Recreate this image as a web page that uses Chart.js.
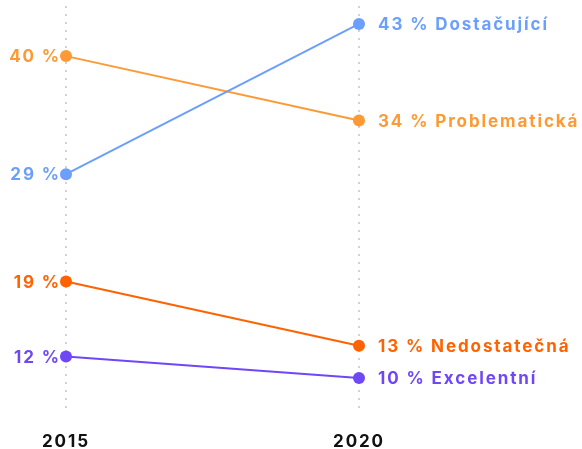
<!DOCTYPE html>
<html>
<head>
<meta charset="utf-8">
<script src="https://cdn.jsdelivr.net/npm/chart.js@4/dist/chart.umd.min.js"></script>
<style>
    html, body { margin: 0; padding: 0; background: #fff; }
    #wrap { width: 582px; height: 449px; position: relative; }
</style>
</head>
<body>
<div id="wrap"><canvas id="myChart"></canvas></div>
<script>
const years = ['2015', '2020'];
const names = ['Dostačující', 'Problematická', 'Nedostatečná', 'Excelentní'];
const values2015 = [29, 40, 19, 12];
const values2020 = [43, 34, 13, 10];
const colors = ['#6c9ffb', '#fd9a35', '#ff6200', '#6f47f7'];

const FONT = 'Inter, "Noto Sans", sans-serif';
const SPACING = '1.9px';

const datasets = names.map((name, i) => ({
    label: name,
    data: [values2015[i], values2020[i]],
    borderColor: colors[i],
    backgroundColor: colors[i],
    borderWidth: 2,
    pointRadius: 6,
    pointHoverRadius: 6,
    pointBorderWidth: 0
}));

// wider letters, like the original grotesk
const spacing = {
    id: 'spacing',
    beforeDraw(chart) {
        chart.ctx.letterSpacing = SPACING;
    }
};

// labels next to the points
const sideLabels = {
    id: 'sideLabels',
    afterDatasetsDraw(chart) {
        const ctx = chart.ctx;
        ctx.save();
        ctx.letterSpacing = SPACING;
        ctx.font = '700 17px ' + FONT;
        ctx.textBaseline = 'middle';
        chart.data.datasets.forEach((ds, i) => {
            const meta = chart.getDatasetMeta(i);
            const p0 = meta.data[0];
            const p1 = meta.data[1];
            ctx.fillStyle = ds.borderColor;
            ctx.textAlign = 'right';
            ctx.fillText(ds.data[0] + ' %', p0.x - 5, p0.y + 1);
            ctx.textAlign = 'left';
            ctx.fillText(ds.data[1] + ' % ' + ds.label, p1.x + 19, p1.y + 1);
        });
        ctx.restore();
    }
};

const myChart = new Chart(document.getElementById('myChart').getContext('2d'), {
    type: 'line',
    data: {
        labels: years,
        datasets: datasets
    },
    options: {
        responsive: true,
        maintainAspectRatio: false,
        animation: false,
        layout: {
            padding: {left: 66, right: 223, top: 0, bottom: 0}
        },
        plugins: {
            legend: {display: false},
            tooltip: {enabled: false}
        },
        scales: {
            y: {
                display: false,
                min: 7.02,
                max: 44.67
            },
            x: {
                offset: false,
                afterFit: (scale) => {
                    scale.height = 39;
                },
                grid: {
                    color: '#d2d2d2',
                    lineWidth: 2,
                    drawTicks: false
                },
                border: {display: false, dash: [2, 6]},
                ticks: {
                    color: '#111',
                    padding: 22,
                    font: {family: FONT, size: 17, weight: '700'}
                }
            }
        }
    },
    plugins: [spacing, sideLabels]
});
</script>
</body>
</html>
